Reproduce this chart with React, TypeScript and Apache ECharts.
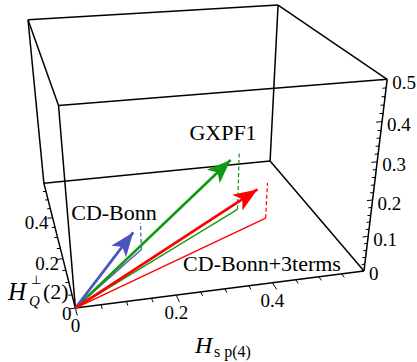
import React, { useEffect, useRef } from "react";
import * as echarts from "echarts";

const W = 417, H = 362;
const SERIF = "Liberation Serif";

// ---- data ----
const models = ["GXPF1", "CD-Bonn", "CD-Bonn+3terms"];
const hsp4 = [0.43, 0.17, 0.48];      // H_sp(4) component
const hqPerp = [0.34, 0.20, 0.28];    // H_Q^perp(2) component
const third = [0.18, 0.08, 0.11];     // vertical component
const colors = ["#129912", "#4b55c0", "#ff0000"];

// ---- axes ----
const X_RANGE = [0, 0.6];
const Y_RANGE = [0, 0.6];
const Z_RANGE = [0, 0.5];
const xMajor = [0, 0.2, 0.4];
const yMajor = [0, 0.2, 0.4];
const zMajor = [0, 0.1, 0.2, 0.3, 0.4, 0.5];
const xMinorStep = 0.05;
const yMinorStep = 0.05;
const zMinorStep = 0.02;

// ---- view: homogeneous projection of the unit box onto the screen ----
const VIEW = [
  315.78702, -18.03569, -24.28701, 75.37967,
  -16.93286, -68.76071, -216.004428, 308.102403,
  0.074622, 0.306892, -0.127012, 1,
];
function proj(X: number, Y: number, Z: number): [number, number] {
  const w = VIEW[8] * X + VIEW[9] * Y + VIEW[10] * Z + VIEW[11];
  return [
    (VIEW[0] * X + VIEW[1] * Y + VIEW[2] * Z + VIEW[3]) / w,
    (VIEW[4] * X + VIEW[5] * Y + VIEW[6] * Z + VIEW[7]) / w,
  ];
}
const nx = (x: number) => (x - X_RANGE[0]) / (X_RANGE[1] - X_RANGE[0]);
const ny = (y: number) => (y - Y_RANGE[0]) / (Y_RANGE[1] - Y_RANGE[0]);
const nz = (z: number) => (z - Z_RANGE[0]) / (Z_RANGE[1] - Z_RANGE[0]);
const p3 = (x: number, y: number, z: number) => proj(nx(x), ny(y), nz(z));

function steps(lo: number, hi: number, st: number) {
  const out: number[] = [];
  for (let i = 0; lo + i * st <= hi + 1e-9; i++) out.push(+(lo + i * st).toFixed(4));
  return out;
}
const isMajor = (v: number, majors: number[]) => majors.some((m) => Math.abs(m - v) < 1e-6);

export default function App() {
  const ref = useRef<HTMLDivElement>(null);
  useEffect(() => {
    document.body.style.margin = "0";
    const chart = echarts.init(ref.current!, null, { renderer: "svg" });

    const edges = [
      [[0, 0, 0], [1, 0, 0]], [[0, 0, 0], [0, 1, 0]], [[1, 0, 0], [1, 1, 0]], [[0, 1, 0], [1, 1, 0]],
      [[0, 0, 1], [1, 0, 1]], [[0, 0, 1], [0, 1, 1]], [[1, 0, 1], [1, 1, 1]], [[0, 1, 1], [1, 1, 1]],
      [[0, 0, 0], [0, 0, 1]], [[1, 0, 0], [1, 0, 1]], [[0, 1, 0], [0, 1, 1]], [[1, 1, 0], [1, 1, 1]],
    ];

    // ticks
    const ticks: any[] = [];
    steps(X_RANGE[0], X_RANGE[1] - xMinorStep, xMinorStep).forEach((t) => {
      const L = isMajor(t, xMajor) ? 0.045 : 0.025;
      ticks.push({ coords: [proj(nx(t), 0, 0), proj(nx(t), -L, 0)] });
    });
    steps(Y_RANGE[0], Y_RANGE[1] - yMinorStep, yMinorStep).forEach((t) => {
      const L = isMajor(t, yMajor) ? 0.02 : 0.012;
      ticks.push({ coords: [proj(0, ny(t), 0), proj(-L, ny(t), 0)] });
    });
    steps(Z_RANGE[0], Z_RANGE[1], zMinorStep).forEach((t) => {
      const L = isMajor(t, zMajor) ? 0.02 : 0.012;
      ticks.push({ coords: [proj(1, 0, nz(t)), proj(1 - L, 0, nz(t))] });
    });

    const fmt = (v: number) => (v === 0 ? "0" : String(v));

    const origin = p3(0, 0, 0);
    const ARW = 14, ARH = 24;
    const arrowSeries = models.map((m, i) => {
      const tip = p3(hsp4[i], hqPerp[i], third[i]);
      const dx = tip[0] - origin[0], dy = tip[1] - origin[1];
      const len = Math.hypot(dx, dy);
      const end = [tip[0] - (dx / len) * ARH / 2, tip[1] - (dy / len) * ARH / 2];
      return {
        type: "lines", coordinateSystem: "cartesian2d", z: 5, silent: true,
        symbol: ["none", "arrow"], symbolSize: [[1, 1], [ARW, ARH]],
        lineStyle: { color: colors[i], width: 2.7, opacity: 1 },
        itemStyle: { color: colors[i] },
        data: [{ coords: [origin, end] }],
      };
    });
    const baseSeries = {
      type: "lines", coordinateSystem: "cartesian2d", z: 3, silent: true,
      data: models.map((m, i) => ({
        coords: [origin, p3(hsp4[i], hqPerp[i], 0)],
        lineStyle: { color: colors[i], width: 1.3, opacity: 1 },
      })),
    };
    const dashSeries = {
      type: "lines", coordinateSystem: "cartesian2d", z: 3, silent: true,
      data: models.map((m, i) => ({
        coords: [p3(hsp4[i], hqPerp[i], 0), p3(hsp4[i], hqPerp[i], third[i])],
        lineStyle: { color: colors[i], width: 1.2, opacity: 1, type: [4, 2.5] },
      })),
    };

    const txt = (text: string, x: number, y: number, size: number, extra: any = {}) => ({
      type: "text", x, y, z: 10,
      style: {
        text, fontFamily: SERIF, fontSize: size, fill: "#000",
        textAlign: "left", textVerticalAlign: "middle", ...extra,
      },
    });
    const tickLabels = [
      ...xMajor.map((t) => { const q = p3(t, 0, 0); return txt(fmt(t), q[0], q[1] + 8, 19, { textAlign: "center", textVerticalAlign: "top" }); }),
      ...yMajor.map((t) => { const q = p3(0, t, 0); return txt(fmt(t), q[0] - 4, q[1] + 5, 19, { textAlign: "right" }); }),
      ...zMajor.map((t) => { const q = proj(1, 0, nz(t)); return txt(fmt(t), q[0] + 5, q[1] + 3, 19); }),
    ];

    chart.setOption({
      animation: false,
      grid: { left: 0, right: 0, top: 0, bottom: 0 },
      xAxis: { type: "value", min: 0, max: W, show: false },
      yAxis: { type: "value", min: 0, max: H, inverse: true, show: false },
      series: [
        {
          type: "lines", coordinateSystem: "cartesian2d", z: 1, silent: true,
          lineStyle: { color: "#000", width: 1.5, opacity: 1 },
          data: edges.map((e) => ({ coords: e.map((p) => proj(p[0], p[1], p[2])) })),
        },
        {
          type: "lines", coordinateSystem: "cartesian2d", z: 1, silent: true,
          lineStyle: { color: "#000", width: 1, opacity: 1 },
          data: ticks,
        },
        baseSeries,
        dashSeries,
        ...arrowSeries,
      ],
      graphic: [
        ...tickLabels,
        txt(models[0], 223, 132, 22, { textAlign: "center" }),
        txt(models[1], 114, 212, 22, { textAlign: "center" }),
        txt(models[2], 262, 263, 22, { textAlign: "center" }),
        txt("H", 195, 345, 24, { fontStyle: "italic" }),
        txt("s p(4)", 214, 351, 16),
        txt("H", 8, 291, 25, { fontStyle: "italic" }),
        txt("\u22A5", 31, 279.5, 12),
        txt("Q", 29, 301, 15, { fontStyle: "italic" }),
        txt("(2)", 43, 291, 22),
      ],
    });
    return () => chart.dispose();
  }, []);
  return <div ref={ref} style={{ width: W, height: H }} />;
}
